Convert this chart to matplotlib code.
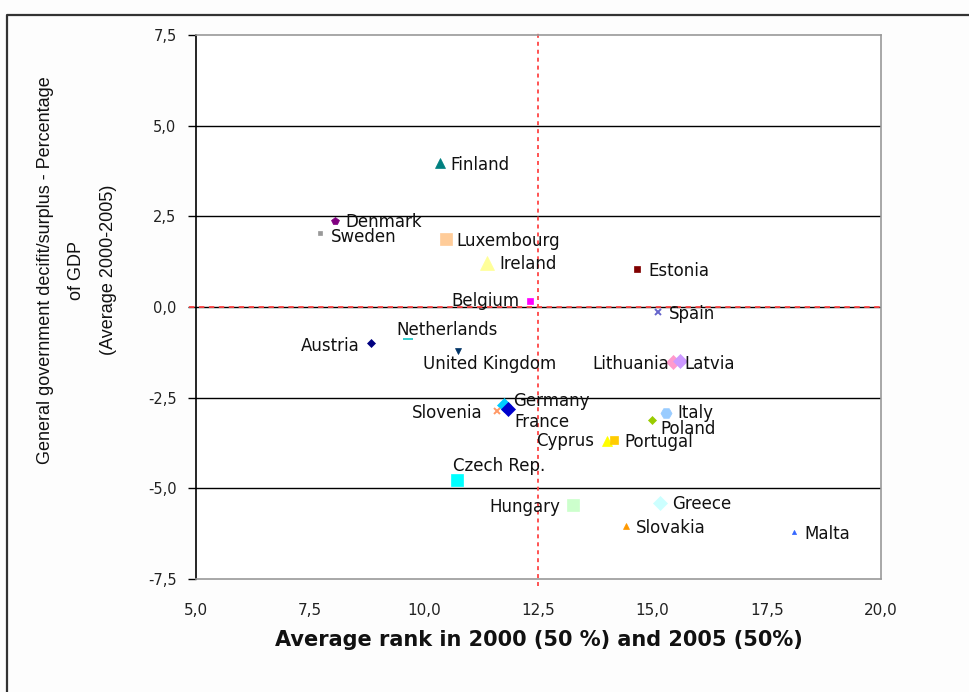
import matplotlib
matplotlib.use("Agg")
import matplotlib.pyplot as plt
import matplotlib.transforms as mtransforms
from matplotlib.lines import Line2D
from matplotlib.ticker import FixedLocator, FuncFormatter

# Average rank (x) and general government balance, % of GDP (y)
countries = ["Finland", "Denmark", "Sweden", "Luxembourg", "Ireland", "Belgium",
             "Estonia", "Spain", "Netherlands", "Austria", "United Kingdom",
             "Lithuania", "Latvia", "Germany", "France", "Slovenia", "Italy",
             "Poland", "Cyprus", "Portugal", "Czech Rep.", "Hungary", "Greece",
             "Slovakia", "Malta"]
avg_rank = [10.34, 8.04, 7.72, 10.47, 11.37, 12.31, 14.66, 15.12, 9.64, 8.83,
            10.74, 15.44, 15.60, 11.74, 11.83, 11.59, 15.29, 14.98, 14.00,
            14.15, 10.71, 13.25, 15.16, 14.42, 18.09]
balance = [3.97, 2.37, 2.04, 1.87, 1.21, 0.17, 1.05, -0.14, -0.88, -0.99,
           -1.21, -1.52, -1.49, -2.70, -2.81, -2.87, -2.92, -3.12, -3.69,
           -3.67, -4.77, -5.46, -5.40, -6.04, -6.20]
x_ticks = [5.0, 7.5, 10.0, 12.5, 15.0, 17.5, 20.0]
y_ticks = [-7.5, -5.0, -2.5, 0.0, 2.5, 5.0, 7.5]

# marker, colour, size for each country
styles = {
    "Finland": ("^", "#008080", 7),
    "Denmark": ("p", "#800080", 6),
    "Sweden": ("s", "#999999", 3),
    "Luxembourg": ("s", "#ffcc99", 9),
    "Ireland": ("^", "#ffff99", 10),
    "Belgium": ("s", "#ff00ff", 5),
    "Estonia": ("s", "#800000", 4),
    "Spain": ("x", "#6666cc", 4),
    "Netherlands": ("_", "#33cccc", 7),
    "Austria": ("D", "#000080", 4),
    "United Kingdom": ("v", "#003366", 4),
    "Lithuania": ("D", "#ff99cc", 7),
    "Latvia": ("D", "#cc99ff", 7),
    "Germany": ("D", "#00ccff", 7),
    "France": ("D", "#0000cc", 7),
    "Slovenia": ("x", "#ff9966", 4),
    "Italy": ("H", "#99ccff", 8),
    "Poland": ("D", "#99cc00", 4),
    "Cyprus": ("^", "#ffff00", 7),
    "Portugal": ("s", "#ffcc00", 6),
    "Czech Rep.": ("s", "#00ffff", 9),
    "Hungary": ("s", "#ccffcc", 9),
    "Greece": ("D", "#ccffff", 7),
    "Slovakia": ("^", "#ff9900", 5),
    "Malta": ("^", "#3366ff", 3),
}

# label offsets in pixels and horizontal alignment
label_pos = {
    "Finland": (11, -2, "left"),
    "Denmark": (11, -1, "left"),
    "Sweden": (11, -4, "left"),
    "Luxembourg": (11, -2, "left"),
    "Ireland": (12, -1, "left"),
    "Belgium": (-10, 0, "right"),
    "Estonia": (11, -2, "left"),
    "Spain": (11, -2, "left"),
    "Netherlands": (-12, 9, "left"),
    "Austria": (-11, -3, "right"),
    "United Kingdom": (-35, -13, "left"),
    "Lithuania": (-4, -2, "right"),
    "Latvia": (4, -3, "left"),
    "Germany": (9, 4, "left"),
    "France": (6, -13, "left"),
    "Slovenia": (-14, -2, "right"),
    "Italy": (11, 0, "left"),
    "Poland": (9, -9, "left"),
    "Cyprus": (-13, 0, "right"),
    "Portugal": (11, -2, "left"),
    "Czech Rep.": (-4, 14, "left"),
    "Hungary": (-12, -2, "right"),
    "Greece": (12, -1, "left"),
    "Slovakia": (10, -2, "left"),
    "Malta": (11, -2, "left"),
}

fig = plt.figure(figsize=(9.7, 6.92), dpi=100, facecolor="#fdfdfd")
ax = fig.add_axes([196 / 970, 1 - 579 / 692, 685 / 970, 544 / 692])
ax.set_facecolor("white")

ax.set_xlim(5.0, 20.0)
ax.set_ylim(-7.5, 7.5)

# horizontal gridlines
for yv in [-5.0, -2.5, 2.5, 5.0]:
    ax.axhline(yv, color="black", lw=1.0, zorder=1)
ax.axhline(0.0, color="black", lw=1.0, zorder=1)
ax.plot([4.85, 20.0], [0.0, 0.0], color="#ff4444", lw=1.3,
        dashes=(3, 2.5), zorder=2, clip_on=False)

# reference line at the median rank
trans = mtransforms.blended_transform_factory(ax.transData, ax.transAxes)
ax.plot([12.5, 12.5], [-0.012, 1.01], transform=trans, color="#ff4444",
        lw=1.3, dashes=(2.2, 2.2), zorder=2, clip_on=False)

for name, xv, yv in zip(countries, avg_rank, balance):
    m, c, s = styles[name]
    mew = 1.4 if m in ("x", "_") else 0.5
    ax.plot(xv, yv, marker=m, color=c, markersize=s, markeredgecolor=c,
            markeredgewidth=mew, linestyle="none", zorder=4)
    dx, dy, ha = label_pos[name]
    ax.annotate(name, (xv, yv), xytext=(dx, dy), textcoords="offset pixels",
                ha=ha, va="center", fontsize=12, color="#111111",
                family="DejaVu Sans", zorder=5)

# spines
for side in ("top", "right", "bottom"):
    ax.spines[side].set_color("#999999")
    ax.spines[side].set_linewidth(1.2)
ax.spines["left"].set_color("black")
ax.spines["left"].set_linewidth(1.2)

comma = FuncFormatter(lambda v, p: f"{v:.1f}".replace(".", ","))
ax.xaxis.set_major_locator(FixedLocator(x_ticks))
ax.yaxis.set_major_locator(FixedLocator(y_ticks))
ax.xaxis.set_major_formatter(comma)
ax.yaxis.set_major_formatter(comma)
ax.tick_params(axis="y", direction="out", length=6, width=1.0, pad=8,
               labelsize=10.5, labelcolor="#222222")
ax.tick_params(axis="x", length=0, pad=17, labelsize=11,
               labelcolor="#222222")

ax.set_xlabel("Average rank in 2000 (50 %) and 2005 (50%)", fontsize=15,
              fontweight="bold", labelpad=9, color="#111111")

# vertical axis title, three centred lines
fig.text(77 / 970, 1 - 270 / 692,
         "General government decifit/surplus - Percentage\nof GDP\n"
         "(Average 2000-2005)",
         rotation=90, ha="center", va="center", multialignment="center",
         fontsize=13, color="#111111", family="Liberation Sans",
         linespacing=2.15)

# outer chart frame (top and left edges)
fig.add_artist(Line2D([7 / 970, 7 / 970, 1.0], [0.0, 1 - 15 / 692, 1 - 15 / 692],
                      transform=fig.transFigure, color="#333333", lw=1.6))

fig.savefig("out.png", dpi=100, facecolor=fig.get_facecolor())
